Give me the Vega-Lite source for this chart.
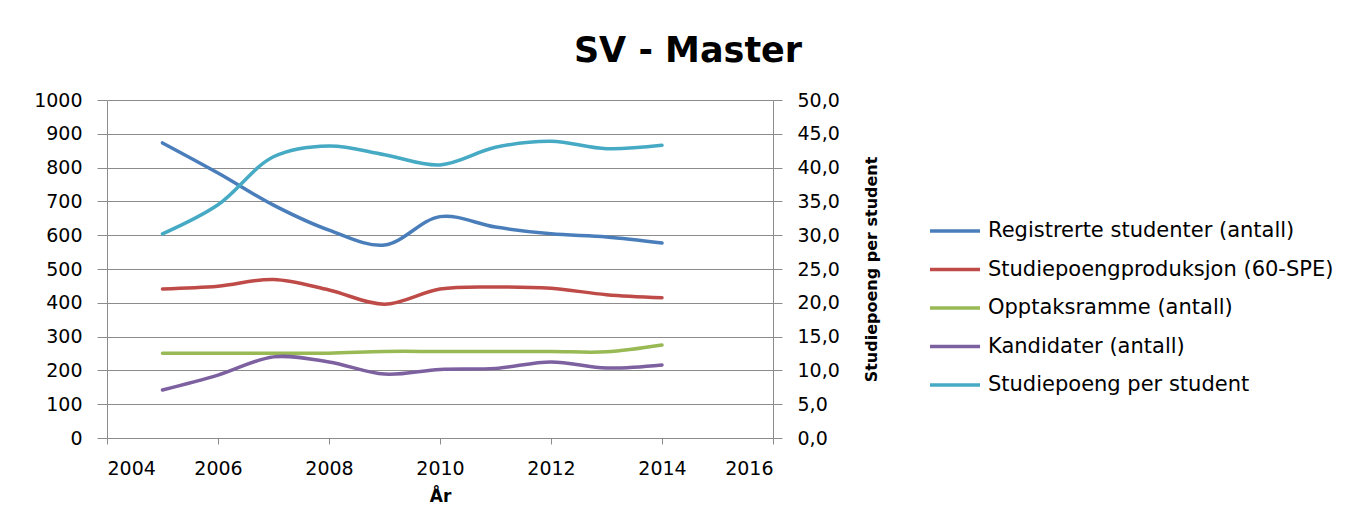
{
  "$schema": "https://vega.github.io/schema/vega-lite/v6.json",
  "width": 666,
  "height": 338,
  "autosize": {"type": "none"},
  "padding": {"left": 107, "top": 100, "right": 588, "bottom": 90},
  "background": "white",
  "config": {
    "view": {"stroke": null},
    "font": "DejaVu Sans",
    "axis": {
      "domainColor": "#8c8c8c",
      "tickColor": "#8c8c8c",
      "gridColor": "#8c8c8c",
      "labelColor": "#000000",
      "labelFont": "DejaVu Sans",
      "labelFontSize": 19,
      "titleFont": "DejaVu Sans",
      "titleFontWeight": "bold",
      "titleFontSize": 17,
      "titleColor": "#000000"
    }
  },
  "title": {
    "text": "SV - Master",
    "font": "DejaVu Sans",
    "fontSize": 35,
    "fontWeight": "bold",
    "color": "#000000",
    "anchor": "middle",
    "dx": 248,
    "offset": 22
  },
  "data": {
    "values": [
      {"year": 2005, "series": "Registrerte studenter (antall)", "value": 873},
      {"year": 2006, "series": "Registrerte studenter (antall)", "value": 784},
      {"year": 2007, "series": "Registrerte studenter (antall)", "value": 689},
      {"year": 2008, "series": "Registrerte studenter (antall)", "value": 615},
      {"year": 2009, "series": "Registrerte studenter (antall)", "value": 571},
      {"year": 2010, "series": "Registrerte studenter (antall)", "value": 655},
      {"year": 2011, "series": "Registrerte studenter (antall)", "value": 624},
      {"year": 2012, "series": "Registrerte studenter (antall)", "value": 604},
      {"year": 2013, "series": "Registrerte studenter (antall)", "value": 595},
      {"year": 2014, "series": "Registrerte studenter (antall)", "value": 577},
      {"year": 2005, "series": "Studiepoengproduksjon (60-SPE)", "value": 441},
      {"year": 2006, "series": "Studiepoengproduksjon (60-SPE)", "value": 449},
      {"year": 2007, "series": "Studiepoengproduksjon (60-SPE)", "value": 469},
      {"year": 2008, "series": "Studiepoengproduksjon (60-SPE)", "value": 438},
      {"year": 2009, "series": "Studiepoengproduksjon (60-SPE)", "value": 396},
      {"year": 2010, "series": "Studiepoengproduksjon (60-SPE)", "value": 441},
      {"year": 2011, "series": "Studiepoengproduksjon (60-SPE)", "value": 447},
      {"year": 2012, "series": "Studiepoengproduksjon (60-SPE)", "value": 443},
      {"year": 2013, "series": "Studiepoengproduksjon (60-SPE)", "value": 424},
      {"year": 2014, "series": "Studiepoengproduksjon (60-SPE)", "value": 415},
      {"year": 2005, "series": "Opptaksramme (antall)", "value": 251},
      {"year": 2006, "series": "Opptaksramme (antall)", "value": 251},
      {"year": 2007, "series": "Opptaksramme (antall)", "value": 251},
      {"year": 2008, "series": "Opptaksramme (antall)", "value": 251},
      {"year": 2009, "series": "Opptaksramme (antall)", "value": 256},
      {"year": 2010, "series": "Opptaksramme (antall)", "value": 256},
      {"year": 2011, "series": "Opptaksramme (antall)", "value": 256},
      {"year": 2012, "series": "Opptaksramme (antall)", "value": 256},
      {"year": 2013, "series": "Opptaksramme (antall)", "value": 255},
      {"year": 2014, "series": "Opptaksramme (antall)", "value": 275},
      {"year": 2005, "series": "Kandidater (antall)", "value": 142},
      {"year": 2006, "series": "Kandidater (antall)", "value": 186},
      {"year": 2007, "series": "Kandidater (antall)", "value": 240},
      {"year": 2008, "series": "Kandidater (antall)", "value": 225},
      {"year": 2009, "series": "Kandidater (antall)", "value": 189},
      {"year": 2010, "series": "Kandidater (antall)", "value": 203},
      {"year": 2011, "series": "Kandidater (antall)", "value": 206},
      {"year": 2012, "series": "Kandidater (antall)", "value": 225},
      {"year": 2013, "series": "Kandidater (antall)", "value": 207},
      {"year": 2014, "series": "Kandidater (antall)", "value": 216},
      {"year": 2005, "series": "Studiepoeng per student", "value": 30.2},
      {"year": 2006, "series": "Studiepoeng per student", "value": 34.5},
      {"year": 2007, "series": "Studiepoeng per student", "value": 41.6},
      {"year": 2008, "series": "Studiepoeng per student", "value": 43.2},
      {"year": 2009, "series": "Studiepoeng per student", "value": 41.9},
      {"year": 2010, "series": "Studiepoeng per student", "value": 40.4},
      {"year": 2011, "series": "Studiepoeng per student", "value": 43.0},
      {"year": 2012, "series": "Studiepoeng per student", "value": 43.9},
      {"year": 2013, "series": "Studiepoeng per student", "value": 42.8},
      {"year": 2014, "series": "Studiepoeng per student", "value": 43.3}
    ]
  },
  "layer": [
    {
      "transform": [{"filter": "datum.series !== 'Studiepoeng per student'"}],
      "mark": {"type": "line", "interpolate": "catmull-rom", "strokeWidth": 3.5, "strokeCap": "round"},
      "encoding": {
        "x": {
          "field": "year", "type": "quantitative",
          "scale": {"domain": [2004, 2016], "nice": false, "zero": false},
          "axis": {
            "values": [2004, 2006, 2008, 2010, 2012, 2014, 2016],
            "format": "d", "title": "År", "grid": false,
            "tickSize": 6, "labelPadding": 15, "titlePadding": 10
          }
        },
        "y": {
          "field": "value", "type": "quantitative",
          "scale": {"domain": [0, 1000], "nice": false},
          "axis": {
            "values": [0, 100, 200, 300, 400, 500, 600, 700, 800, 900, 1000],
            "title": null, "grid": true, "tickSize": 10, "labelPadding": 15,
            "format": "d"
          }
        },
        "color": {
          "field": "series", "type": "nominal",
          "scale": {
            "domain": ["Registrerte studenter (antall)", "Studiepoengproduksjon (60-SPE)", "Opptaksramme (antall)", "Kandidater (antall)", "Studiepoeng per student"],
            "range": ["#4A7EBB", "#BE4B48", "#98B954", "#7D60A0", "#46AAC5"]
          },
          "legend": {
            "orient": "none", "legendX": 821, "legendY": 104,
            "title": null, "symbolType": "stroke", "symbolSize": 2500,
            "symbolStrokeWidth": 3.5, "labelFontSize": 21, "labelFont": "DejaVu Sans",
            "labelColor": "#000000", "rowPadding": 1.5, "labelOffset": 6,
            "labelLimit": 500
          }
        }
      }
    },
    {
      "transform": [{"filter": "datum.series === 'Studiepoeng per student'"}],
      "mark": {"type": "line", "interpolate": "catmull-rom", "strokeWidth": 3.5, "strokeCap": "round"},
      "encoding": {
        "x": {"field": "year", "type": "quantitative"},
        "y": {
          "field": "value", "type": "quantitative",
          "scale": {"domain": [0, 50], "nice": false},
          "axis": {
            "orient": "right",
            "values": [0, 5, 10, 15, 20, 25, 30, 35, 40, 45, 50],
            "labelExpr": "replace(format(datum.value, '.1f'), '.', ',')",
            "title": "Studiepoeng per student", "titleAngle": 270, "titleFontSize": 16, "grid": false,
            "tickSize": 9, "labelPadding": 15, "titlePadding": 40
          }
        },
        "color": {"field": "series", "type": "nominal"}
      }
    }
  ],
  "resolve": {"scale": {"y": "independent"}}
}
